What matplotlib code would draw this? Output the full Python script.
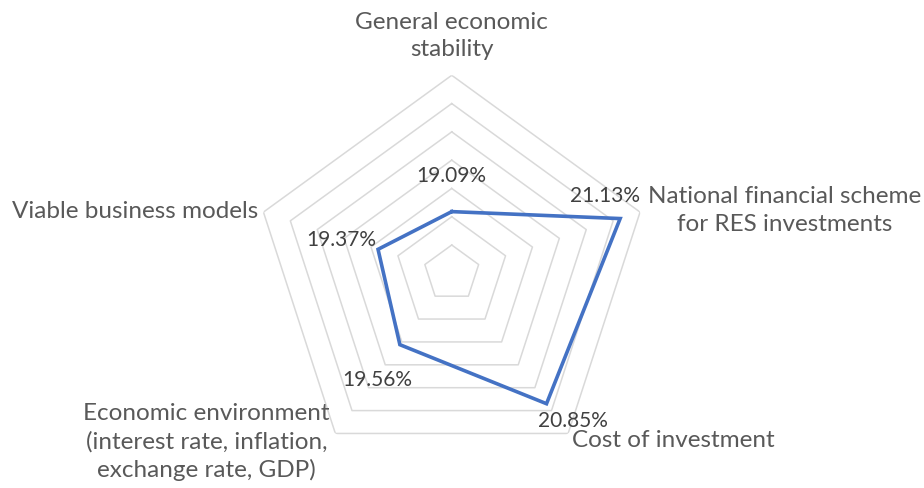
import numpy as np
import matplotlib
matplotlib.use("Agg")
import matplotlib.pyplot as plt

# data
categories = ["General economic\nstability",
              "National financial scheme\nfor RES investments",
              "Cost of investment",
              "Economic environment\n(interest rate, inflation,\nexchange rate, GDP)",
              "Viable business models"]
values = [19.09, 21.13, 20.85, 19.56, 19.37]
value_labels = ["19.09%", "21.13%", "20.85%", "19.56%", "19.37%"]
grid_levels = [18.5, 19.0, 19.5, 20.0, 20.5, 21.0, 21.5]

plt.rcParams['font.family'] = ['Lato', 'DejaVu Sans']
txtcol = "#595959"

fig = plt.figure(figsize=(9.24, 4.89), dpi=100)
ax = fig.add_axes([0.2746, 0.0342, 0.4286, 0.8098], projection='polar')
ax.set_theta_zero_location('N')
ax.set_theta_direction(-1)
ax.set_ylim(18.0, 21.5)
ax.grid(False)
ax.set_xticks([])
ax.set_yticks([])
ax.spines['polar'].set_visible(False)
ax.patch.set_alpha(0)

n = len(categories)
ang = np.arange(n) * 2 * np.pi / n
ang_closed = np.append(ang, ang[0])

# pentagon gridlines
for lv in grid_levels:
    ax.plot(ang_closed, [lv] * (n + 1), color="#D9D9D9", lw=1.1, zorder=1)

# data line
vals_closed = values + values[:1]
ax.plot(ang_closed, vals_closed, color="#4472C4", lw=2.6, zorder=3,
        solid_joinstyle='miter')

# data labels
lab_off = [(0, 37), (-15, 24), (26, -16), (-23, -34), (-37, 10)]
for a, v, t, o in zip(ang, values, value_labels, lab_off):
    ax.annotate(t, (a, v), xytext=o, textcoords='offset pixels',
                ha='center', va='center', fontsize=15, color="#404040")

# category labels
cat_pos = [(22.21, 'center'), (21.65, 'left'), (21.63, 'left'),
           (21.67, 'right'), (21.6, 'right')]
for a, c, (r, ha) in zip(ang, categories, cat_pos):
    ax.text(a, r, c, ha=ha, va='center', multialignment='center',
            fontsize=17.5, color=txtcol, clip_on=False, linespacing=1.38)

fig.savefig("out.png", dpi=100)
